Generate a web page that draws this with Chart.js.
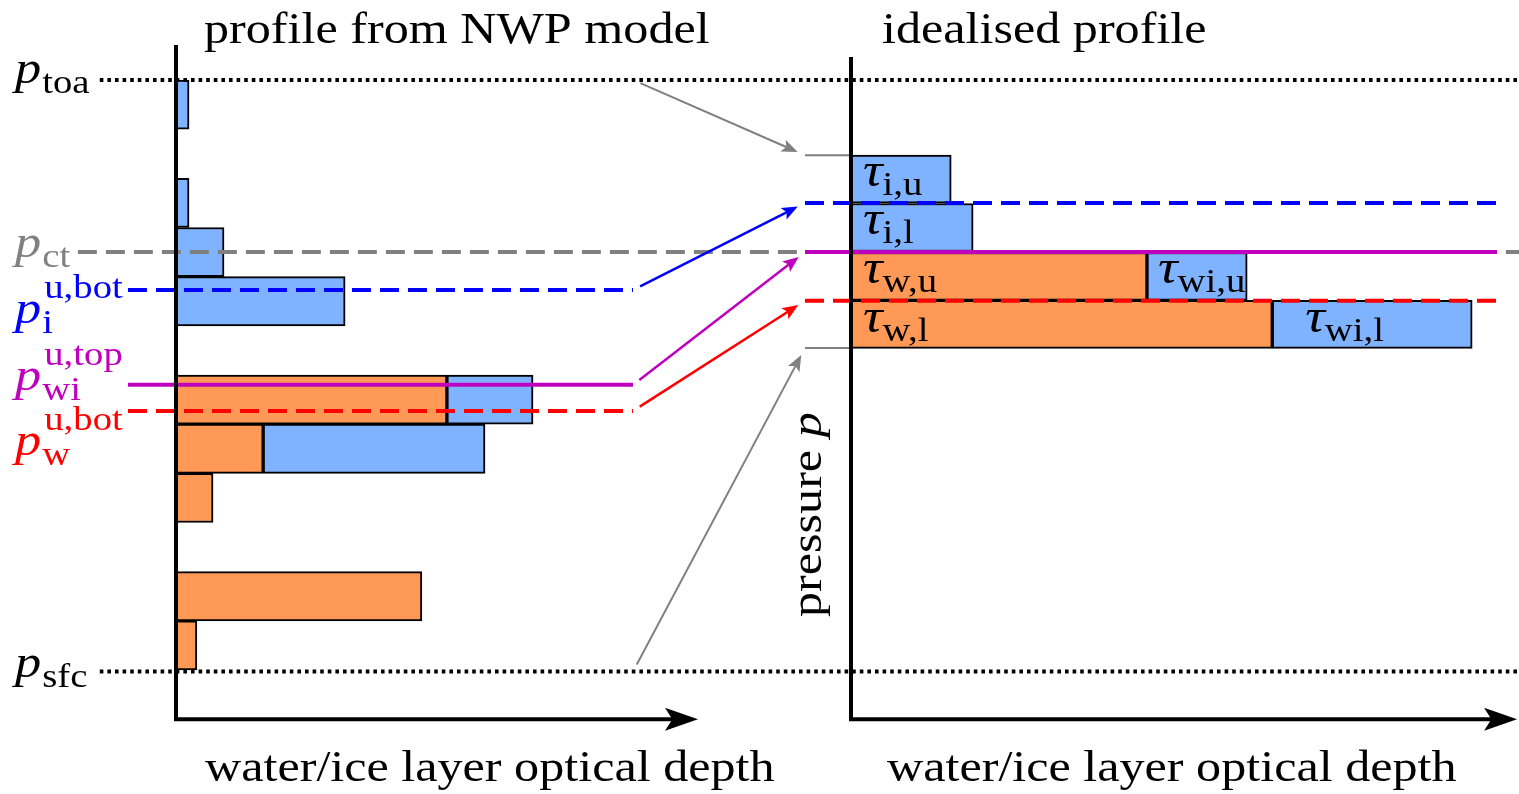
<!DOCTYPE html>
<html lang="en">

<head>
    <meta charset="UTF-8">
    <title>NWP profile vs idealised profile</title>
    <script src="https://cdn.jsdelivr.net/npm/chart.js"></script>
    <style>
        html,
        body {
            margin: 0;
            padding: 0;
            background: #fff;
        }

        .chart-box {
            position: relative;
            width: 1519px;
            height: 794px;
        }
    </style>
</head>

<body>
    <div class="chart-box"><canvas id="profileChart"></canvas></div>

    <script>
        // pressure counted in NWP model layers: p_toa = 0, p_sfc = 12
        const nwpLayers = [0, 1, 2, 3, 4, 5, 6, 7, 8, 9, 10, 11];
        const nwpWaterTau = [0, 0, 0, 0, 0, 0, 5.19, 1.67, 0.71, 0, 4.71, 0.40];
        const nwpIceTau = [0.25, 0, 0.25, 0.92, 3.24, 0, 1.65, 4.25, 0, 0, 0, 0];

        const pToa = 0;
        const pSfc = 12.03;
        const pCt = 3.5;
        const pIceBot = 4.27;
        const pMixTop = 6.2;
        const pWaterBot = 6.73;

        // idealised profile: four layers
        const idealTop = [1.53, 2.5, 3.5, 4.49];
        const idealBottom = [2.5, 3.5, 4.49, 5.45];
        const idealWaterTau = [0, 0, 5.67, 8.07];
        const idealIceTau = [1.92, 2.34, 1.92, 3.83];
        const idealWaterNames = ['', '', 'w,u', 'w,l'];
        const idealIceNames = ['i,u', 'i,l', 'wi,u', 'wi,l'];

        const levelValues = [pToa, pCt, pIceBot, pMixTop, pWaterBot, pSfc];
        const levelSubs = ['toa', 'ct', 'i', 'wi', 'w', 'sfc'];
        const levelSups = ['', '', 'u,bot', 'u,top', 'u,bot', ''];

        const titleLeft = 'profile from NWP model';
        const titleRight = 'idealised profile';
        const xTitle = 'water/ice layer optical depth';
        const yTitle = 'pressure ';
        const yTitleSymbol = 'p';

        const BLUE_FILL = '#80b3ff';
        const ORANGE_FILL = '#ff9955';
        const GREY = '#808080';
        const BLUE = '#0000ff';
        const PURPLE = '#bf00bf';
        const RED = '#ff0000';
        const levelColors = ['#000', GREY, BLUE, PURPLE, RED, '#000'];
        const labelDy = [3, 5, 33, 5, 44, 5];
        const iceLabelDx = [12, 12, 11, 33];

        const SX = 1.14; // widen Liberation Serif towards the TeX look
        const SERIF = '"Liberation Serif", serif';

        const bar = (data, color, xAxisID, yAxisID) => ({
            type: 'bar',
            indexAxis: 'y',
            data: data,
            xAxisID: xAxisID,
            yAxisID: yAxisID,
            backgroundColor: color,
            borderColor: '#000',
            borderWidth: 2,
            borderSkipped: false,
            grouped: false,
            barPercentage: 1,
            categoryPercentage: 1,
            order: 10
        });

        const levelLine = (x0, x1, level, color, width, dash, xAxisID, yAxisID, order) => ({
            type: 'line',
            data: [{ x: x0, y: level }, { x: x1, y: level }],
            xAxisID: xAxisID,
            yAxisID: yAxisID,
            borderColor: color,
            borderWidth: width,
            borderDash: dash,
            borderCapStyle: 'butt',
            pointRadius: 0,
            pointHoverRadius: 0,
            fill: false,
            order: order
        });

        const nwpWaterData = nwpLayers.filter(k => nwpWaterTau[k] > 0)
            .map(k => ({ y: k + 0.5, x: [0, nwpWaterTau[k]] }));
        const nwpIceData = nwpLayers.filter(k => nwpIceTau[k] > 0)
            .map(k => ({ y: k + 0.5, x: [nwpWaterTau[k], nwpWaterTau[k] + nwpIceTau[k]] }));
        const idealIdx = idealTop.map((_, i) => i);
        const idealWaterData = idealIdx.filter(i => idealWaterTau[i] > 0)
            .map(i => ({ y: (idealTop[i] + idealBottom[i]) / 2, x: [0, idealWaterTau[i]] }));
        const idealIceData = idealIdx.filter(i => idealIceTau[i] > 0)
            .map(i => ({ y: (idealTop[i] + idealBottom[i]) / 2, x: [idealWaterTau[i], idealWaterTau[i] + idealIceTau[i]] }));

        // extents of the level lines, in optical depth units of each panel
        const L_START = -0.92, L_END = 8.755, L_FAR = -1.46, L_GREY = -1.88, FULL = 25.73;
        const R_START = -0.881, R_END = 12.375;
        const DOT = [3.6, 4], DASH = [19, 9];

        const datasets = [
            bar(nwpWaterData, ORANGE_FILL, 'xL', 'yL'),
            bar(nwpIceData, BLUE_FILL, 'xL', 'yL'),
            bar(idealWaterData, ORANGE_FILL, 'xR', 'yR'),
            bar(idealIceData, BLUE_FILL, 'xR', 'yR'),
            levelLine(L_FAR, FULL, pToa, '#000', 3.8, DOT, 'xL', 'yL', 2),
            levelLine(L_FAR, FULL, pSfc, '#000', 3.8, DOT, 'xL', 'yL', 2),
            levelLine(L_GREY, FULL, pCt, GREY, 4, DASH, 'xL', 'yL', 3),
            levelLine(L_START, L_END, pIceBot, BLUE, 4, DASH, 'xL', 'yL', 1),
            levelLine(L_START, L_END, pMixTop, PURPLE, 4, [], 'xL', 'yL', 1),
            levelLine(L_START, L_END, pWaterBot, RED, 4, DASH, 'xL', 'yL', 1),
            levelLine(R_START, R_END, idealTop[1], BLUE, 4, DASH, 'xR', 'yR', 1),
            levelLine(R_START, R_END, idealTop[2], PURPLE, 4, [], 'xR', 'yR', 0),
            levelLine(R_START, R_END, idealTop[3], RED, 4, DASH, 'xR', 'yR', 1),
            levelLine(R_START, 0, idealTop[0], GREY, 2, [], 'xR', 'yR', 1),
            levelLine(R_START, 0, idealBottom[3], GREY, 2, [], 'xR', 'yR', 1)
        ];

        const arrows = [
            { from: pToa, to: idealTop[0], color: GREY, width: 2 },
            { from: pIceBot, to: idealTop[1], color: BLUE, width: 2.5 },
            { from: pMixTop, to: idealTop[2], color: PURPLE, width: 2.5 },
            { from: pWaterBot, to: idealTop[3], color: RED, width: 2.5 },
            { from: pSfc, to: idealBottom[3], color: GREY, width: 2 }
        ];

        function stretchText(ctx, str, x, y, font, color, rot) {
            ctx.save();
            ctx.translate(x, y);
            if (rot) ctx.rotate(rot);
            ctx.scale(SX, 1);
            ctx.font = font;
            ctx.fillStyle = color;
            ctx.textAlign = 'left';
            ctx.textBaseline = 'alphabetic';
            ctx.fillText(str, 0, 0);
            const w = ctx.measureText(str).width * SX;
            ctx.restore();
            return w;
        }

        function arrowHead(ctx, x, y, ang, len, half, color) {
            ctx.save();
            ctx.translate(x, y);
            ctx.rotate(ang);
            ctx.beginPath();
            ctx.moveTo(0, 0);
            ctx.lineTo(-len, -half);
            ctx.lineTo(-len * 0.78, 0);
            ctx.lineTo(-len, half);
            ctx.closePath();
            ctx.fillStyle = color;
            ctx.fill();
            ctx.restore();
        }

        const decorations = {
            id: 'decorations',
            afterDatasetsDraw(chart) {
                const ctx = chart.ctx;
                const { xL, xR, yL, yR } = chart.scales;

                // connecting arrows
                arrows.forEach(a => {
                    let x0 = xL.getPixelForValue(L_END), y0 = yL.getPixelForValue(a.from);
                    let x1 = xR.getPixelForValue(R_START), y1 = yR.getPixelForValue(a.to);
                    const ang = Math.atan2(y1 - y0, x1 - x0);
                    const c = Math.cos(ang), s = Math.sin(ang);
                    x0 += 8 * c; y0 += 8 * s;
                    x1 -= 8 * c; y1 -= 8 * s;
                    ctx.save();
                    ctx.strokeStyle = a.color;
                    ctx.lineWidth = a.width;
                    ctx.beginPath();
                    ctx.moveTo(x0, y0);
                    ctx.lineTo(x1 - 10 * c, y1 - 10 * s);
                    ctx.stroke();
                    ctx.restore();
                    arrowHead(ctx, x1, y1, ang, 16, 6.5, a.color);
                });

                // axes
                const axes = [
                    { x: xL, y: yL, top: -0.71, tip: 10 },
                    { x: xR, y: yR, top: -0.47, tip: 12.76 }
                ];
                axes.forEach(ax => {
                    const x0 = ax.x.getPixelForValue(0);
                    const yTop = ax.y.getPixelForValue(ax.top);
                    const yBot = ax.y.getPixelForValue(13.0);
                    const tip = ax.x.getPixelForValue(ax.tip);
                    ctx.save();
                    ctx.strokeStyle = '#000';
                    ctx.lineWidth = 4;
                    ctx.beginPath();
                    ctx.moveTo(x0, yTop);
                    ctx.lineTo(x0, yBot + 2);
                    ctx.moveTo(x0 - 2, yBot);
                    ctx.lineTo(tip - 20, yBot);
                    ctx.stroke();
                    ctx.restore();
                    arrowHead(ctx, tip, yBot, 0, 33, 11.5, '#000');
                });

                // titles
                const ROMAN = '44px ' + SERIF;
                const MATH = 'italic 46px ' + SERIF;
                const SMALL = '34px ' + SERIF;
                stretchText(ctx, titleLeft, 204, 43, ROMAN, '#000');
                stretchText(ctx, titleRight, 882, 43, ROMAN, '#000');
                stretchText(ctx, xTitle, 205, 781, ROMAN, '#000');
                stretchText(ctx, xTitle, 887, 781, ROMAN, '#000');
                const wy = stretchText(ctx, yTitle, 821, 617, ROMAN, '#000', -Math.PI / 2);
                stretchText(ctx, yTitleSymbol, 821, 617 - wy, 'italic 44px ' + SERIF, '#000', -Math.PI / 2);

                // pressure level labels
                levelValues.forEach((lv, i) => {
                    const base = yL.getPixelForValue(lv) + labelDy[i];
                    const pw = stretchText(ctx, 'p', 15, base, MATH, levelColors[i]);
                    stretchText(ctx, levelSubs[i], 15 + pw + 1, base + 10, SMALL, levelColors[i]);
                    if (levelSups[i]) {
                        stretchText(ctx, levelSups[i], 15 + pw + 3, base - 25, SMALL, levelColors[i]);
                    }
                });

                // optical depth labels in the idealised layers
                const tauLabel = (x, top, sub) => {
                    const tw = stretchText(ctx, '\u03c4', x, top + 31, 'italic 48px ' + SERIF, '#000');
                    stretchText(ctx, sub, x + tw, top + 40, SMALL, '#000');
                };
                idealIdx.forEach(i => {
                    const top = yR.getPixelForValue(idealTop[i]);
                    if (idealWaterTau[i] > 0) {
                        tauLabel(xR.getPixelForValue(0) + 12, top, idealWaterNames[i]);
                    }
                    tauLabel(xR.getPixelForValue(idealWaterTau[i]) + iceLabelDx[i], top, idealIceNames[i]);
                });
            }
        };

        const hiddenLinear = (axis, position, min, max, reverse) => ({
            type: 'linear',
            axis: axis,
            position: position,
            display: false,
            offset: false,
            reverse: reverse,
            min: min,
            max: max,
            // keep ticks sparse so bar thickness follows the layer spacing
            ticks: { stepSize: 100 }
        });

        new Chart(document.getElementById('profileChart').getContext('2d'), {
            type: 'bar',
            data: { datasets: datasets },
            options: {
                animation: false,
                responsive: true,
                maintainAspectRatio: false,
                devicePixelRatio: 1,
                layout: { padding: 0, autoPadding: false },
                plugins: {
                    legend: { display: false },
                    tooltip: { enabled: false }
                },
                scales: {
                    xL: hiddenLinear('x', 'bottom', -3.3716, 25.728, false),
                    xR: hiddenLinear('x', 'top', -16.3027, 12.797, false),
                    yL: hiddenLinear('y', 'left', -1.627, 14.521, true),
                    yR: hiddenLinear('y', 'right', -1.627, 14.521, true)
                }
            },
            plugins: [decorations]
        });
    </script>
</body>

</html>
